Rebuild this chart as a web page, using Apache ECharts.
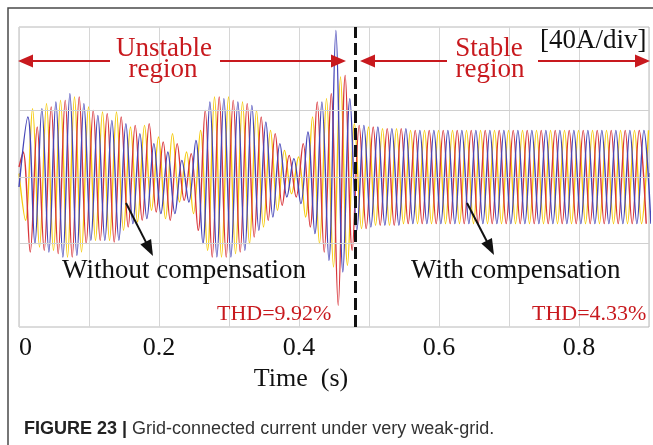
<!DOCTYPE html>
<html>
<head>
<meta charset="utf-8">
<script src="https://cdn.jsdelivr.net/npm/echarts@6/dist/echarts.min.js"></script>
<style>
  html, body { margin: 0; padding: 0; background: #fff; }
  #chart { width: 653px; height: 445px; }
</style>
</head>
<body>
<div id="chart"></div>
<script>
// Three-phase grid current (A), one extreme value per half cycle (50 Hz).
// Each phase alternates between its positive peaks and its negative peaks.
const period = 0.02;

// Phase a (red): positive peaks at 0.006 + 0.02k, troughs 0.01 s later
const redPeaks = [15, 30, 42, 46, 48, 40, 38, 36, 31, 32,
  21, 20, 14, 40, 48, 46, 44, 36, 26, 13,
  20, 45, 50, 61, 31,
  30, 29, 29, 28, 28, 28, 28, 28, 28, 28, 28, 28, 28, 28, 28, 28, 28, 28, 28, 28];
const redTroughs = [-45, -44, -46, -48, -40, -38, -39, -30, -26, -21,
  -26, -14, -32, -48, -48, -45, -36, -26, -17, -12,
  -30, -45, -77, -44, -31,
  -29, -29, -28, -28, -28, -28, -28, -28, -28, -28, -28, -28, -28, -28, -28, -28, -28, -28, -28, -28];

// Phase b (blue)
const bluePeaks = [36, 41, 45, 50, 44, 37, 34, 32, 26, 20,
  15, 10, 22, 45, 47, 45, 43, 33, 20, 11,
  27, 45, 88, 47, 31,
  30, 29, 29, 28, 28, 28, 28, 28, 28, 28, 28, 28, 28, 28, 28, 28, 28, 28, 28, 28];
const blueTroughs = [-40, -45, -48, -47, -38, -38, -38, -28, -25, -22,
  -22, -15, -40, -48, -48, -44, -32, -24, -12, -16,
  -34, -50, -57, -32, -30,
  -29, -29, -28, -28, -28, -28, -28, -28, -28, -28, -28, -28, -28, -28, -28, -28, -28, -28, -28, -28];

// Phase c (yellow): trough comes first at 0.0093 s
const yellowPeaks = [41, 44, 46, 48, 42, 39, 39, 30, 31, 24,
  26, 15, 28, 48, 48, 45, 40, 28, 16, 12,
  36, 47, 60, 32, 30,
  29, 29, 28, 28, 28, 28, 28, 28, 28, 28, 28, 28, 28, 28, 28, 28, 28, 28, 28, 28];
const yellowTroughs = [-26, -42, -44, -48, -45, -38, -38, -32, -27, -20,
  -25, -15, -22, -44, -48, -46, -40, -30, -20, -10,
  -24, -40, -54, -53, -31,
  -29, -29, -28, -28, -28, -28, -28, -28, -28, -28, -28, -28, -28, -28, -28, -28, -28, -28, -28, -28];

// value of each phase at t = 0
const startValues = { red: 6, blue: -6, yellow: 2 };

const xTickValues = [0, 0.2, 0.4, 0.6, 0.8];
const xTickLabels = ['0', '0.2', '0.4', '0.6', '0.8'];
const hGridValues = [-40, 0, 40];   // 40 A/div
const regionBoundary = 0.476;       // compensation switched on

const RED = '#d8353a', BLUE = '#4545b8', YELLOW = '#f5cb10';
const NOTE_RED = '#c8191e';

// Builds the alternating extreme points of one phase.
function phasePoints(startValue, firstTime, firstArr, secondArr) {
  const pts = [[0, startValue]];
  for (let k = 0; k < firstArr.length; k++) {
    pts.push([firstTime + period * k, firstArr[k]]);
    pts.push([firstTime + period / 2 + period * k, secondArr[k]]);
  }
  return pts;
}

const redData = phasePoints(startValues.red, 0.006, redPeaks, redTroughs);
const blueData = phasePoints(startValues.blue, 0.0127, bluePeaks, blueTroughs);
const yellowData = phasePoints(startValues.yellow, 0.0093, yellowTroughs, yellowPeaks);

function wave(name, color, data, z) {
  return {
    name, type: 'line', data, z,
    smooth: 0.36, showSymbol: false, silent: true, clip: true,
    lineStyle: { color, width: 1.4 },
    animation: false
  };
}

function arrow(x1, y1, x2, y2, color, lw, hl, hw) {
  const dx = x2 - x1, dy = y2 - y1, len = Math.hypot(dx, dy);
  const ux = dx / len, uy = dy / len;
  const bx = x2 - ux * hl, by = y2 - uy * hl;
  const px = -uy * hw / 2, py = ux * hw / 2;
  return [
    { type: 'line', z: 100, shape: { x1, y1, x2: bx + ux, y2: by + uy },
      style: { stroke: color, lineWidth: lw } },
    { type: 'polygon', z: 100, shape: { points: [[x2, y2], [bx + px, by + py], [bx - px, by - py]] },
      style: { fill: color } }
  ];
}

function label(text, x, y, size, color, align) {
  return { type: 'text', x, y, z: 100,
    style: { text, font: size + 'px "Liberation Serif"', fill: color,
      align: align || 'center', verticalAlign: 'middle' } };
}

const chart = echarts.init(document.getElementById('chart'), null, { renderer: 'canvas' });

chart.setOption({
  animation: false,
  backgroundColor: '#fff',
  grid: { left: 19, right: 4, top: 27, bottom: 118, show: true,
    borderColor: '#b8b8b8', borderWidth: 1 },
  xAxis: {
    type: 'value', min: 0, max: 0.9, interval: 0.1,
    name: 'Time  (s)', nameLocation: 'middle', nameGap: 29,
    nameTextStyle: { fontFamily: 'Liberation Serif', fontSize: 26, color: '#111',
      padding: [0, 66, 0, 0] },
    axisLine: { show: false },
    axisTick: { show: true, inside: true, length: 4, lineStyle: { color: '#999' } },
    splitLine: { show: true, lineStyle: { color: '#d6d6d6', width: 1 } },
    axisLabel: {
      fontFamily: 'Liberation Serif', fontSize: 26, color: '#111', margin: 8,
      alignMinLabel: 'left',
      formatter: v => {
        const i = xTickValues.findIndex(t => Math.abs(t - v) < 1e-6);
        return i >= 0 ? xTickLabels[i] : '';
      }
    }
  },
  yAxis: {
    type: 'value', min: -90, max: 90,
    axisLine: { show: false }, axisTick: { show: false },
    axisLabel: { show: false }, splitLine: { show: false }
  },
  series: [
    { type: 'line', data: [], z: 1, silent: true,
      markLine: { silent: true, symbol: 'none', animation: false,
        label: { show: false },
        lineStyle: { color: '#d0d0d0', width: 1, type: 'solid' },
        data: hGridValues.map(v => ({ yAxis: v })) } },
    wave('Phase c', YELLOW, yellowData, 2),
    wave('Phase a', RED, redData, 3),
    wave('Phase b', BLUE, blueData, 4),
    { type: 'line', data: [], z: 10, silent: true,
      markLine: { silent: true, symbol: 'none', animation: false,
        label: { show: false },
        lineStyle: { color: '#111', width: 3, type: [12, 5] },
        data: [{ xAxis: regionBoundary }] } }
  ],
  graphic: [
    { type: 'rect', z: 0, shape: { x: 8, y: 8, width: 700, height: 500 },
      style: { fill: 'none', stroke: '#4a4a4a', lineWidth: 1.5 } },
    label('Unstable', 164, 49, 27, NOTE_RED),
    label('region', 163, 70, 27, NOTE_RED),
    label('Stable', 489, 49, 27, NOTE_RED),
    label('region', 490, 70, 27, NOTE_RED),
    label('[40A/div]', 540, 41, 27, '#111', 'left'),
    label('Without compensation', 62, 271, 27, '#111', 'left'),
    label('With compensation', 411, 271, 27, '#111', 'left'),
    label('THD=9.92%', 217, 314.5, 22, NOTE_RED, 'left'),
    label('THD=4.33%', 532, 314.5, 22, NOTE_RED, 'left'),
    ...arrow(110, 61, 18, 61, NOTE_RED, 2.2, 15, 13),
    ...arrow(220, 61, 346, 61, NOTE_RED, 2.2, 15, 13),
    ...arrow(447, 61, 360, 61, NOTE_RED, 2.2, 15, 13),
    ...arrow(538, 61, 650, 61, NOTE_RED, 2.2, 15, 13),
    ...arrow(126, 203, 153, 256, '#111', 2, 16, 12),
    ...arrow(467, 203, 494, 255, '#111', 2, 16, 12),
    { type: 'text', x: 24, y: 429, z: 100,
      style: {
        text: '{b|FIGURE 23 | }{r|Grid-connected current under very weak-grid.}',
        verticalAlign: 'middle', align: 'left',
        rich: {
          b: { fontFamily: 'Liberation Sans', fontSize: 18, fontWeight: 'bold', fill: '#222' },
          r: { fontFamily: 'Liberation Sans', fontSize: 18, fill: '#333' }
        }
      } }
  ]
});
</script>
</body>
</html>
